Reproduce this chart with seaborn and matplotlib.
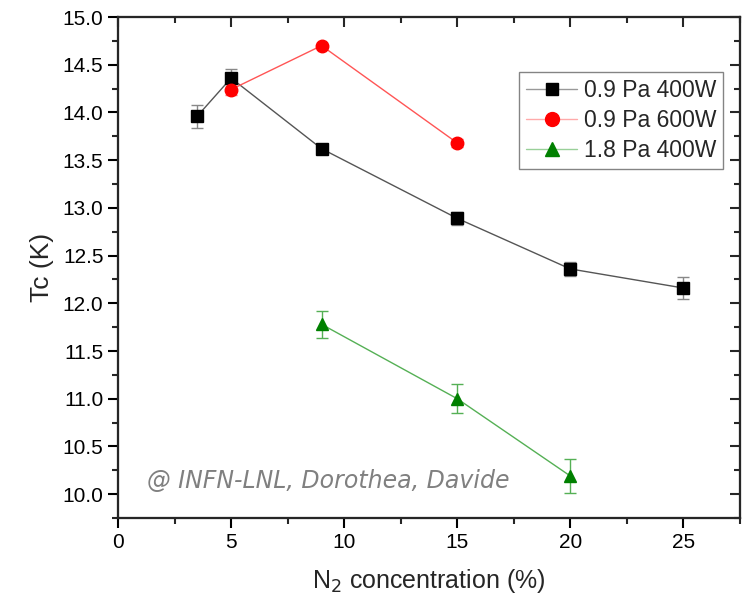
import numpy as np
import pandas as pd
import matplotlib
matplotlib.use("Agg")
import matplotlib.pyplot as plt
import seaborn as sns
from matplotlib.ticker import MultipleLocator, FormatStrFormatter
from matplotlib.lines import Line2D

# data
x_a = [3.5, 5, 9, 15, 20, 25]
tc_a = [13.96, 14.36, 13.62, 12.89, 12.36, 12.16]
err_a = [0.12, 0.10, 0.05, 0.07, 0.07, 0.12]

x_b = [5, 9, 15]
tc_b = [14.24, 14.70, 13.68]
err_b = [0.06, 0.02, 0.04]

x_c = [9, 15, 20]
tc_c = [11.78, 11.00, 10.19]
err_c = [0.14, 0.15, 0.18]

labels = ["0.9 Pa 400W", "0.9 Pa 600W", "1.8 Pa 400W"]

sns.set_style("ticks")
plt.rcParams["font.family"] = ["Liberation Sans", "DejaVu Sans"]

fig = plt.figure(figsize=(7.44, 5.99), dpi=100)
ax = fig.add_axes([0.1586, 0.1352, 0.836, 0.8364])

# (x, y, err, marker colour, line colour, errbar colour, legend line colour, marker, size)
series = [
    (x_a, tc_a, err_a, "black", "#555555", "#888888", "#999999", "s", 8),
    (x_b, tc_b, err_b, "red", "#ff5555", "#ff7777", "#ffaaaa", "o", 9),
    (x_c, tc_c, err_c, "green", "#55b055", "#55b055", "#99d099", "^", 9),
]

handles = []
for (xs, ys, es, mc, lc, ec, lgc, mk, ms), lab in zip(series, labels):
    df = pd.DataFrame({"x": xs, "y": ys})
    ax.errorbar(xs, ys, yerr=es, fmt="none", ecolor=ec, elinewidth=1,
                capsize=4, capthick=1, zorder=2)
    sns.lineplot(data=df, x="x", y="y", ax=ax, color=lc, lw=1,
                 sort=False, legend=False, zorder=3)
    ax.plot(xs, ys, ls="none", marker=mk, ms=ms, color=mc, mec=mc, zorder=4)
    handles.append(Line2D([], [], color=lgc, lw=1, marker=mk,
                          ms=ms + 1, mfc=mc, mec=mc))

ax.set_xlim(0, 27.5)
ax.set_ylim(9.75, 15.0)
ax.xaxis.set_major_locator(MultipleLocator(5))
ax.xaxis.set_minor_locator(MultipleLocator(2.5))
ax.yaxis.set_major_locator(MultipleLocator(0.5))
ax.yaxis.set_minor_locator(MultipleLocator(0.25))
ax.yaxis.set_major_formatter(FormatStrFormatter("%.1f"))

for s in ax.spines.values():
    s.set_linewidth(1.5)
    s.set_color("black")
ax.tick_params(which="major", direction="out", length=7, width=1.5,
               labelsize=15, colors="black")
ax.tick_params(which="minor", direction="out", length=4, width=1.5)

# inward ticks on top and right
axt = ax.twiny()
axt.set_xlim(ax.get_xlim())
axt.xaxis.set_major_locator(MultipleLocator(5))
axt.xaxis.set_minor_locator(MultipleLocator(2.5))
axt.tick_params(which="major", direction="in", length=7, width=1.5, labeltop=False)
axt.tick_params(which="minor", direction="in", length=4, width=1.5)
axr = ax.twinx()
axr.set_ylim(ax.get_ylim())
axr.yaxis.set_major_locator(MultipleLocator(0.5))
axr.yaxis.set_minor_locator(MultipleLocator(0.25))
axr.tick_params(which="major", direction="in", length=7, width=1.5, labelright=False)
axr.tick_params(which="minor", direction="in", length=4, width=1.5)
for a in (axt, axr):
    for s in a.spines.values():
        s.set_linewidth(1.5)

ax.set_xlabel("N$_2$ concentration (%)", fontsize=18, labelpad=11)
ax.set_ylabel("Tc (K)", fontsize=19, labelpad=6)

leg = ax.legend(handles, labels, loc="upper right", bbox_to_anchor=(0.9727, 0.890),
                fontsize=16.5, frameon=True, fancybox=False, handlelength=2.2,
                borderpad=0.3, labelspacing=0.3, handletextpad=0.3,
                borderaxespad=0.0)
leg.get_frame().set_edgecolor("#666666")
leg.get_frame().set_linewidth(1)

ax.text(1.27, 10.06, "@ INFN-LNL, Dorothea, Davide", fontsize=17,
        style="italic", color="#808080", family="DejaVu Sans")

fig.savefig("out.png", dpi=100)
